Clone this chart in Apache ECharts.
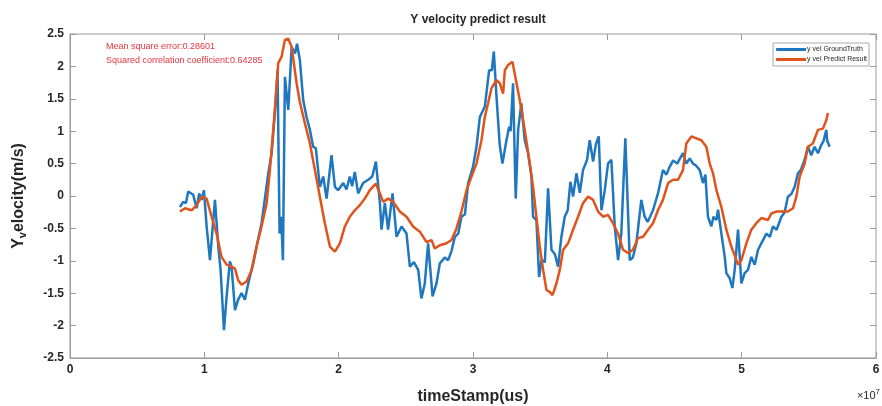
<!DOCTYPE html>
<html>
<head>
<meta charset="utf-8">
<script src="https://cdn.jsdelivr.net/npm/echarts@6/dist/echarts.min.js"></script>
<style>
  html, body { margin: 0; padding: 0; background: #fff; }
  #main { width: 882px; height: 406px; }
</style>
</head>
<body>
<div id="main"></div>
<script>
// time in units of 1e7 us
var gtTime = [0.818, 0.843, 0.863, 0.88, 0.917, 0.943, 0.962, 0.98, 0.997, 1.017, 1.042, 1.079, 1.104, 1.121, 1.146, 1.166, 1.19, 1.203, 1.228, 1.252, 1.277, 1.302, 1.327, 1.364, 1.389, 1.426, 1.456, 1.476, 1.501, 1.525, 1.545, 1.56, 1.572, 1.585, 1.60, 1.625, 1.65, 1.675, 1.69, 1.711, 1.736, 1.761, 1.786, 1.81, 1.83, 1.847, 1.86, 1.885, 1.91, 1.947, 1.972, 1.996, 2.034, 2.058, 2.083, 2.10, 2.12, 2.145, 2.182, 2.22, 2.25, 2.277, 2.307, 2.319, 2.344, 2.368, 2.401, 2.431, 2.468, 2.505, 2.53, 2.56, 2.592, 2.616, 2.641, 2.666, 2.699, 2.728, 2.753, 2.79, 2.815, 2.84, 2.865, 2.89, 2.914, 2.94, 2.964, 3.0, 3.026, 3.051, 3.088, 3.12, 3.14, 3.155, 3.175, 3.199, 3.219, 3.249, 3.269, 3.28, 3.298, 3.318, 3.336, 3.36, 3.385, 3.41, 3.435, 3.447, 3.472, 3.492, 3.51, 3.535, 3.559, 3.584, 3.61, 3.633, 3.658, 3.683, 3.705, 3.725, 3.745, 3.77, 3.795, 3.819, 3.849, 3.869, 3.894, 3.915, 3.936, 3.956, 3.981, 4.005, 4.03, 4.055, 4.08, 4.104, 4.134, 4.167, 4.19, 4.216, 4.253, 4.278, 4.30, 4.34, 4.377, 4.414, 4.44, 4.464, 4.49, 4.52, 4.563, 4.588, 4.613, 4.638, 4.66, 4.688, 4.712, 4.73, 4.749, 4.774, 4.79, 4.812, 4.824, 4.849, 4.874, 4.886, 4.911, 4.931, 4.948, 4.973, 4.998, 5.022, 5.047, 5.072, 5.097, 5.122, 5.159, 5.184, 5.21, 5.233, 5.26, 5.296, 5.32, 5.344, 5.37, 5.394, 5.419, 5.44, 5.469, 5.493, 5.518, 5.543, 5.568, 5.593, 5.61, 5.63, 5.637, 5.655];
var gtVel = [-0.17, -0.09, -0.11, 0.07, 0.02, -0.19, 0.04, -0.06, 0.09, -0.47, -0.99, -0.06, -0.78, -1.14, -2.07, -1.55, -1.01, -1.09, -1.76, -1.60, -1.50, -1.60, -1.35, -1.04, -0.78, -0.42, 0.04, 0.35, 0.66, 1.28, 1.94, -0.58, -0.32, -0.99, 1.84, 1.33, 2.30, 2.20, 2.35, 2.10, 1.48, 1.22, 1.02, 0.76, 0.74, 0.40, 0.14, 0.30, -0.04, 0.63, 0.14, 0.09, 0.20, 0.10, 0.30, 0.15, 0.37, 0.04, 0.20, 0.25, 0.30, 0.53, -0.11, -0.52, -0.11, -0.52, 0.04, -0.63, -0.47, -0.58, -1.09, -1.02, -1.14, -1.58, -1.35, -0.73, -1.55, -1.35, -1.04, -0.95, -0.99, -0.85, -0.63, -0.58, -0.32, -0.28, 0.20, 0.45, 0.76, 1.22, 1.38, 1.94, 1.94, 2.23, 1.53, 0.79, 0.50, 0.86, 1.07, 1.00, 1.74, -0.04, 1.02, 1.43, 0.86, 0.66, 0.30, -0.32, -0.37, -1.25, -0.99, -1.02, 0.12, -0.83, -0.90, -1.09, -0.63, -0.32, -0.22, 0.22, -0.01, 0.35, 0.05, 0.40, 0.56, 0.86, 0.53, 0.80, 0.92, -0.22, 0.09, 0.50, 0.56, -0.47, -0.99, -0.58, 0.89, -0.99, -0.95, -0.73, -0.06, -0.32, -0.40, -0.22, 0.04, 0.40, 0.33, 0.45, 0.55, 0.50, 0.66, 0.50, 0.58, 0.50, 0.47, 0.40, 0.20, 0.33, -0.32, -0.47, -0.32, -0.37, -0.21, -0.58, -0.94, -1.19, -1.27, -1.42, -1.14, -0.52, -1.35, -1.19, -1.14, -0.94, -1.06, -0.83, -0.68, -0.58, -0.63, -0.47, -0.52, -0.32, -0.25, -0.01, 0.03, 0.14, 0.35, 0.40, 0.56, 0.76, 0.63, 0.76, 0.66, 0.79, 0.85, 1.02, 0.85, 0.76];

var predTime = [0.818, 0.856, 0.905, 0.943, 0.98, 1.017, 1.054, 1.091, 1.128, 1.166, 1.203, 1.228, 1.252, 1.277, 1.315, 1.352, 1.389, 1.426, 1.464, 1.488, 1.513, 1.538, 1.55, 1.575, 1.60, 1.624, 1.65, 1.687, 1.711, 1.749, 1.786, 1.823, 1.86, 1.897, 1.935, 1.972, 2.009, 2.046, 2.083, 2.12, 2.158, 2.195, 2.232, 2.277, 2.307, 2.331, 2.368, 2.406, 2.455, 2.505, 2.554, 2.604, 2.654, 2.691, 2.716, 2.753, 2.803, 2.84, 2.877, 2.914, 2.952, 2.989, 3.026, 3.063, 3.088, 3.112, 3.137, 3.175, 3.199, 3.224, 3.237, 3.261, 3.294, 3.324, 3.348, 3.385, 3.423, 3.447, 3.472, 3.497, 3.522, 3.547, 3.571, 3.592, 3.621, 3.646, 3.671, 3.708, 3.745, 3.782, 3.819, 3.857, 3.894, 3.931, 3.968, 4.005, 4.042, 4.08, 4.117, 4.154, 4.191, 4.228, 4.266, 4.303, 4.34, 4.377, 4.414, 4.452, 4.489, 4.526, 4.563, 4.588, 4.626, 4.663, 4.70, 4.737, 4.762, 4.787, 4.812, 4.849, 4.886, 4.923, 4.961, 4.973, 4.998, 5.035, 5.072, 5.109, 5.147, 5.196, 5.221, 5.258, 5.307, 5.344, 5.382, 5.407, 5.432, 5.469, 5.493, 5.53, 5.568, 5.605, 5.63, 5.642];
var predVel = [-0.24, -0.19, -0.22, -0.14, -0.01, -0.04, -0.32, -0.58, -0.94, -1.06, -1.09, -1.12, -1.30, -1.37, -1.32, -1.14, -0.78, -0.47, -0.11, 0.40, 1.02, 1.69, 2.05, 2.15, 2.41, 2.43, 2.30, 1.74, 1.45, 1.12, 0.81, 0.40, -0.01, -0.42, -0.78, -0.86, -0.73, -0.47, -0.32, -0.22, -0.14, -0.04, 0.09, 0.19, 0.04, -0.09, -0.04, -0.09, -0.24, -0.32, -0.47, -0.55, -0.71, -0.68, -0.81, -0.76, -0.73, -0.68, -0.50, -0.24, 0.09, 0.30, 0.50, 0.86, 1.22, 1.43, 1.66, 1.79, 1.74, 1.58, 1.94, 2.02, 2.07, 1.74, 1.48, 1.02, 0.50, 0.14, -0.32, -0.78, -1.14, -1.45, -1.48, -1.53, -1.35, -1.14, -0.83, -0.73, -0.52, -0.32, -0.11, -0.01, -0.06, -0.24, -0.32, -0.29, -0.42, -0.58, -0.83, -0.88, -0.83, -0.65, -0.63, -0.52, -0.42, -0.22, -0.06, 0.20, 0.25, 0.25, 0.40, 0.81, 0.92, 0.89, 0.86, 0.76, 0.50, 0.35, 0.09, -0.17, -0.52, -0.78, -0.99, -1.06, -0.99, -0.73, -0.52, -0.42, -0.34, -0.37, -0.27, -0.24, -0.24, -0.24, -0.19, -0.01, 0.30, 0.50, 0.76, 0.81, 1.02, 1.04, 1.17, 1.28];

var xTicks = [0, 1, 2, 3, 4, 5, 6];
var yTicks = [-2.5, -2, -1.5, -1, -0.5, 0, 0.5, 1, 1.5, 2, 2.5];

function pairs(t, v) {
    return t.map(function (x, i) { return [x, v[i]]; });
}

var chartDom = document.getElementById('main');
var chart = echarts.init(chartDom, null, { renderer: 'canvas' });

var font = 'Liberation Sans, Arial, Helvetica, sans-serif';
var axisGray = '#9a9a9a';
var textDark = '#262626';

var option = {
    animation: false,
    backgroundColor: '#fff',
    textStyle: { fontFamily: font },
    title: {
        text: 'Y velocity predict result',
        left: 473, top: 9, textAlign: 'center',
        textStyle: { fontSize: 12, fontWeight: 'bold', color: textDark, fontFamily: font }
    },
    legend: {
        right: 13, top: 43,
        orient: 'vertical',
        itemWidth: 30, itemHeight: 3, itemGap: 3,
        padding: [3, 2, 3, 3],
        borderColor: '#aaa', borderWidth: 1,
        backgroundColor: '#fff',
        icon: 'rect',
        textStyle: { fontSize: 7, color: textDark, padding: [0, 0, 0, -4] },
        data: ['y vel GroundTruth', 'y vel Predict Result']
    },
    grid: {
        left: 70, right: 6, top: 34, bottom: 48,
        show: true, borderColor: axisGray, borderWidth: 1,
        containLabel: false, outerBoundsMode: 'none'
    },
    xAxis: [{
        type: 'value', min: 0, max: 6, interval: 1,
        name: 'timeStamp(us)', nameLocation: 'middle', nameGap: 31,
        nameTextStyle: { fontSize: 16, fontWeight: 'bold', color: textDark },
        axisLine: { onZero: false, lineStyle: { color: axisGray } },
        axisTick: { inside: true, length: 6, lineStyle: { color: axisGray } },
        axisLabel: { fontSize: 12, fontWeight: 'bold', color: textDark, margin: 6 },
        splitLine: { show: false }
    }, {
        type: 'value', min: 0, max: 6, interval: 1, position: 'top',
        axisLine: { show: false, onZero: false },
        axisTick: { inside: true, length: 6, lineStyle: { color: axisGray } },
        axisLabel: { show: false }, splitLine: { show: false }
    }],
    yAxis: [{
        type: 'value', min: -2.5, max: 2.5, interval: 0.5,
        name: '{b|Y}{s|v}{b|elocity(m/s)}', nameLocation: 'middle', nameGap: 42,
        nameRotate: 90,
        nameTextStyle: {
            rich: {
                b: { fontSize: 16, fontWeight: 'bold', color: textDark, fontFamily: font },
                s: { fontSize: 11, fontWeight: 'bold', color: textDark, fontFamily: font, padding: [8, 0, 0, 0] }
            }
        },
        axisLine: { onZero: false, lineStyle: { color: axisGray } },
        axisTick: { inside: true, length: 6, lineStyle: { color: axisGray } },
        axisLabel: { fontSize: 12, fontWeight: 'bold', color: textDark, margin: 6 },
        splitLine: { show: false }
    }, {
        type: 'value', min: -2.5, max: 2.5, interval: 0.5, position: 'right',
        axisLine: { show: false, onZero: false },
        axisTick: { inside: true, length: 6, lineStyle: { color: axisGray } },
        axisLabel: { show: false }, splitLine: { show: false }
    }],
    series: [{
        name: 'y vel GroundTruth',
        type: 'line',
        data: pairs(gtTime, gtVel),
        showSymbol: false, symbol: 'none',
        lineStyle: { width: 2.5, color: '#1f77c0' },
        itemStyle: { color: '#1f77c0' },
        z: 2
    }, {
        name: 'y vel Predict Result',
        type: 'line',
        data: pairs(predTime, predVel),
        showSymbol: false, symbol: 'none',
        lineStyle: { width: 2.5, color: '#e0531a' },
        itemStyle: { color: '#e0531a' },
        z: 3
    }],
    graphic: [{
        type: 'text', left: 106, top: 42,
        style: { text: 'Mean square error:0.28601', fontSize: 9, fill: '#e8333f', fontFamily: font }
    }, {
        type: 'text', left: 106, top: 56,
        style: { text: 'Squared correlation coefficient:0.64285', fontSize: 9, fill: '#e8333f', fontFamily: font }
    }, {
        type: 'text', right: 2, top: 388,
        style: {
            text: '{a|×10}{e|7}',
            rich: {
                a: { fontSize: 11, fill: textDark, fontFamily: font },
                e: { fontSize: 8, fill: textDark, fontFamily: font, padding: [0, 0, 8, 0] }
            }
        }
    }]
};

chart.setOption(option);
window.addEventListener('resize', function () {
    chart.resize();
});
</script>
</body>
</html>
